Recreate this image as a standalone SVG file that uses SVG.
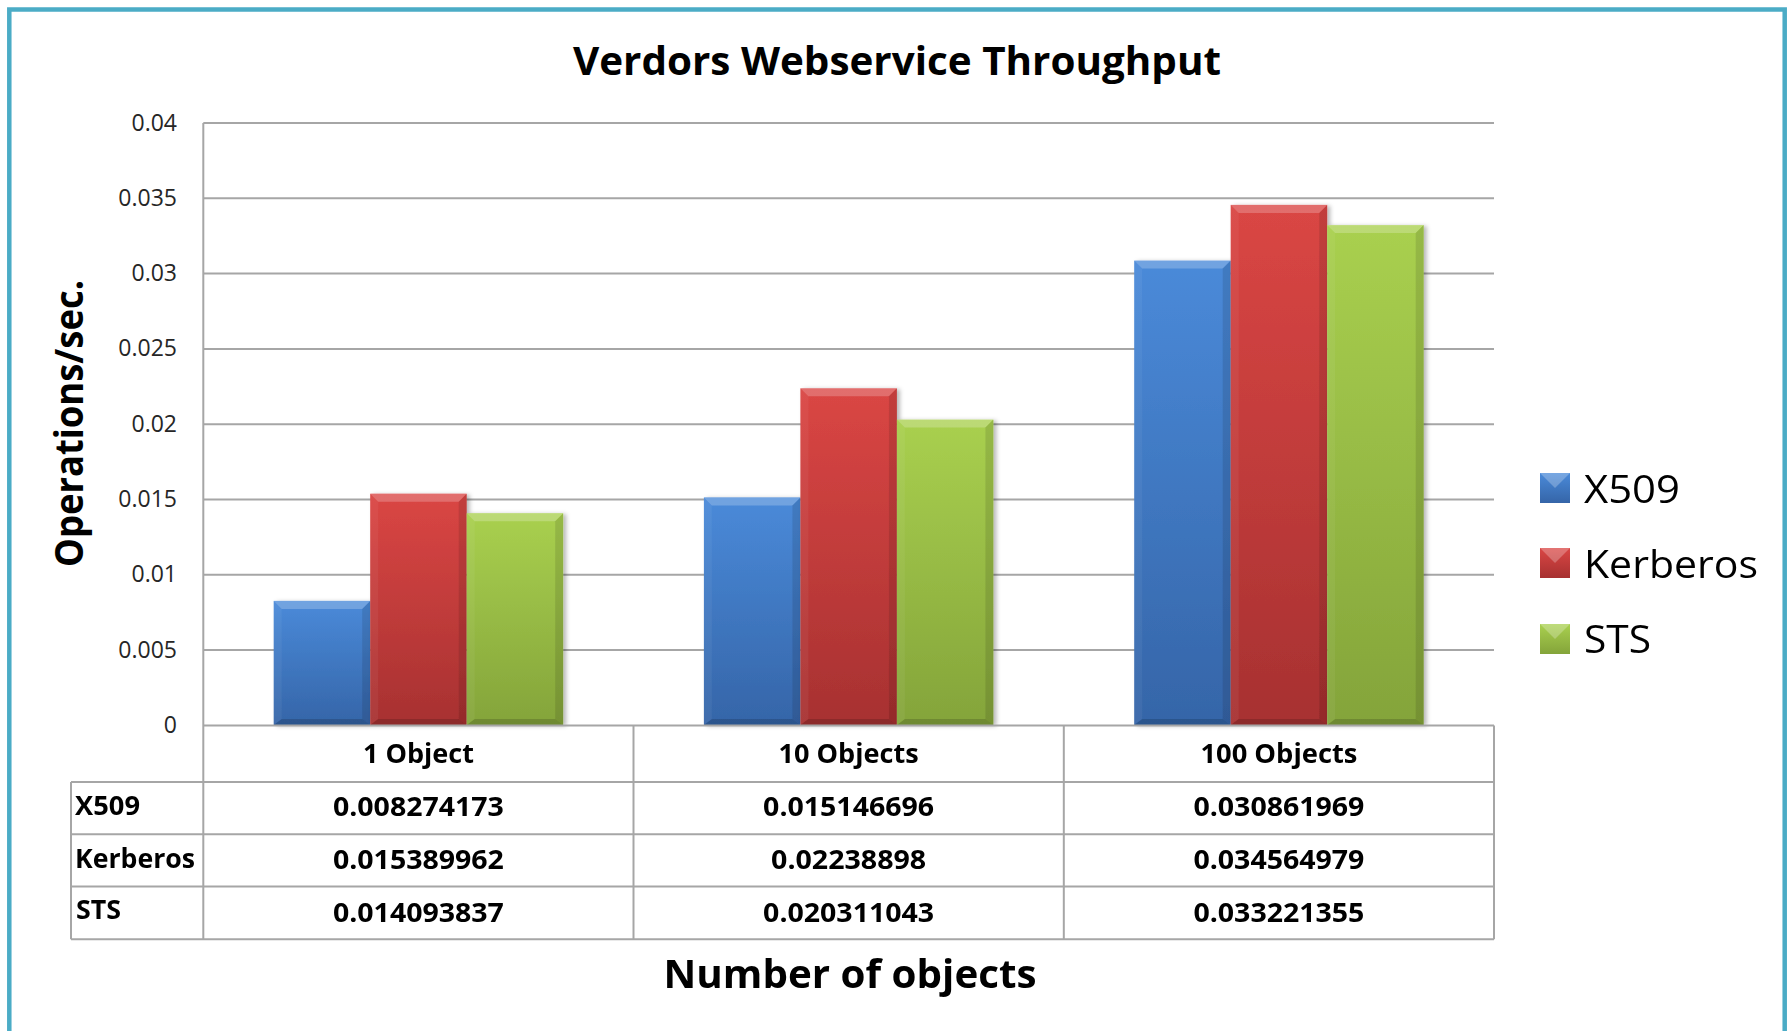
<svg xmlns="http://www.w3.org/2000/svg" width="1787" height="1031" viewBox="0 0 1787 1031">
  <style>
    .grid { stroke: #a6a6a6; stroke-width: 2; fill: none; }
    .tbl { stroke: #a6a6a6; stroke-width: 2; fill: none; }
    .ylab { font-family: "Open Sans", "Noto Sans", sans-serif; font-size: 23px; fill: #262626; text-anchor: end; }
    .hdr { font-family: "Open Sans", "Noto Sans", sans-serif; font-size: 26px; font-weight: bold; fill: #000; text-anchor: middle; }
    .val { font-family: "Open Sans", "Noto Sans", sans-serif; font-size: 26px; font-weight: bold; fill: #000; text-anchor: middle; }
    .row { font-family: "Open Sans", "Noto Sans", sans-serif; font-size: 26px; font-weight: bold; fill: #000; }
    .leg { font-family: "Open Sans", "Noto Sans", sans-serif; font-size: 39px; fill: #000; }
    .title { font-family: "Open Sans", "Noto Sans", sans-serif; font-size: 40px; font-weight: bold; fill: #000; }
    .bt { fill: #ffffff; fill-opacity: 0.22; }
    .bl { fill: #ffffff; fill-opacity: 0.05; }
    .br { fill: #000000; fill-opacity: 0.11; }
    .bb { fill: #000000; fill-opacity: 0.16; }
    .lt { fill: #ffffff; fill-opacity: 0.25; }
  </style>
  <defs>
    <linearGradient id="gBlue" x1="0" y1="0" x2="0" y2="1">
      <stop offset="0" stop-color="#4a8ad9"/>
      <stop offset="1" stop-color="#3565a8"/>
    </linearGradient>
    <linearGradient id="gRed" x1="0" y1="0" x2="0" y2="1">
      <stop offset="0" stop-color="#da4644"/>
      <stop offset="1" stop-color="#a73131"/>
    </linearGradient>
    <linearGradient id="gGreen" x1="0" y1="0" x2="0" y2="1">
      <stop offset="0" stop-color="#a9d04f"/>
      <stop offset="1" stop-color="#84a43a"/>
    </linearGradient>
    <filter id="shadow" x="-10%" y="-5%" width="125%" height="110%">
      <feDropShadow dx="3" dy="1" stdDeviation="2" flood-color="#000" flood-opacity="0.28"/>
    </filter>
  </defs>

  <rect width="1787" height="1031" fill="#ffffff"/>
  <!-- frame, open at the bottom edge -->
  <rect x="9.3" y="9.5" width="1775.4" height="1100" fill="none" stroke="#4bacc6" stroke-width="4.5"/>

  <g id="title">
    <text class="title" x="573" y="75" textLength="648" lengthAdjust="spacingAndGlyphs">Verdors Webservice Throughput</text>
  </g>

  <!-- horizontal gridlines, 0.005 apart -->
  <g id="gridlines">
    <line class="grid" x1="203.3" y1="123" x2="1494" y2="123"/>
    <line class="grid" x1="203.3" y1="198.3" x2="1494" y2="198.3"/>
    <line class="grid" x1="203.3" y1="273.6" x2="1494" y2="273.6"/>
    <line class="grid" x1="203.3" y1="348.9" x2="1494" y2="348.9"/>
    <line class="grid" x1="203.3" y1="424.2" x2="1494" y2="424.2"/>
    <line class="grid" x1="203.3" y1="499.5" x2="1494" y2="499.5"/>
    <line class="grid" x1="203.3" y1="574.8" x2="1494" y2="574.8"/>
    <line class="grid" x1="203.3" y1="650.1" x2="1494" y2="650.1"/>
  </g>

  <g id="y-axis">
    <text class="ylab" x="177" y="130.5">0.04</text>
    <text class="ylab" x="177" y="205.8">0.035</text>
    <text class="ylab" x="177" y="281.1">0.03</text>
    <text class="ylab" x="177" y="356.4">0.025</text>
    <text class="ylab" x="177" y="431.7">0.02</text>
    <text class="ylab" x="177" y="507">0.015</text>
    <text class="ylab" x="177" y="582.3">0.01</text>
    <text class="ylab" x="177" y="657.6">0.005</text>
    <text class="ylab" x="177" y="732.9">0</text>
    <text class="title" transform="translate(83,567) rotate(-90)" x="0" y="0" font-size="39" textLength="287" lengthAdjust="spacingAndGlyphs">Operations/sec.</text>
  </g>

  <!-- bars: main fill plus four bevel facets -->
  <g id="series-x509" filter="url(#shadow)">
    <g transform="translate(273.7,600.9)">
      <rect width="96.5" height="124.1" fill="url(#gBlue)"/>
      <path class="bt" d="M0,0H96.5L88.5,8H8Z"/><path class="bl" d="M0,0L8,8V118.1L0,124.1Z"/>
      <path class="br" d="M96.5,0V124.1L88.5,118.1V8Z"/><path class="bb" d="M0,124.1L8,118.1H88.5L96.5,124.1Z"/>
    </g>
    <g transform="translate(703.9,497.4)">
      <rect width="96.5" height="227.6" fill="url(#gBlue)"/>
      <path class="bt" d="M0,0H96.5L88.5,8H8Z"/><path class="bl" d="M0,0L8,8V221.6L0,227.6Z"/>
      <path class="br" d="M96.5,0V227.6L88.5,221.6V8Z"/><path class="bb" d="M0,227.6L8,221.6H88.5L96.5,227.6Z"/>
    </g>
    <g transform="translate(1134.2,260.6)">
      <rect width="96.5" height="464.4" fill="url(#gBlue)"/>
      <path class="bt" d="M0,0H96.5L88.5,8H8Z"/><path class="bl" d="M0,0L8,8V458.4L0,464.4Z"/>
      <path class="br" d="M96.5,0V464.4L88.5,458.4V8Z"/><path class="bb" d="M0,464.4L8,458.4H88.5L96.5,464.4Z"/>
    </g>
  </g>
  <g id="series-kerberos" filter="url(#shadow)">
    <g transform="translate(370.2,493.7)">
      <rect width="96.5" height="231.3" fill="url(#gRed)"/>
      <path class="bt" d="M0,0H96.5L88.5,8H8Z"/><path class="bl" d="M0,0L8,8V225.3L0,231.3Z"/>
      <path class="br" d="M96.5,0V231.3L88.5,225.3V8Z"/><path class="bb" d="M0,231.3L8,225.3H88.5L96.5,231.3Z"/>
    </g>
    <g transform="translate(800.4,388.3)">
      <rect width="96.5" height="336.7" fill="url(#gRed)"/>
      <path class="bt" d="M0,0H96.5L88.5,8H8Z"/><path class="bl" d="M0,0L8,8V330.7L0,336.7Z"/>
      <path class="br" d="M96.5,0V336.7L88.5,330.7V8Z"/><path class="bb" d="M0,336.7L8,330.7H88.5L96.5,336.7Z"/>
    </g>
    <g transform="translate(1230.7,204.9)">
      <rect width="96.5" height="520.1" fill="url(#gRed)"/>
      <path class="bt" d="M0,0H96.5L88.5,8H8Z"/><path class="bl" d="M0,0L8,8V514.1L0,520.1Z"/>
      <path class="br" d="M96.5,0V520.1L88.5,514.1V8Z"/><path class="bb" d="M0,520.1L8,514.1H88.5L96.5,520.1Z"/>
    </g>
  </g>
  <g id="series-sts" filter="url(#shadow)">
    <g transform="translate(466.7,513.2)">
      <rect width="96.5" height="211.8" fill="url(#gGreen)"/>
      <path class="bt" d="M0,0H96.5L88.5,8H8Z"/><path class="bl" d="M0,0L8,8V205.8L0,211.8Z"/>
      <path class="br" d="M96.5,0V211.8L88.5,205.8V8Z"/><path class="bb" d="M0,211.8L8,205.8H88.5L96.5,211.8Z"/>
    </g>
    <g transform="translate(896.9,419.6)">
      <rect width="96.5" height="305.4" fill="url(#gGreen)"/>
      <path class="bt" d="M0,0H96.5L88.5,8H8Z"/><path class="bl" d="M0,0L8,8V299.4L0,305.4Z"/>
      <path class="br" d="M96.5,0V305.4L88.5,299.4V8Z"/><path class="bb" d="M0,305.4L8,299.4H88.5L96.5,305.4Z"/>
    </g>
    <g transform="translate(1327.2,225.1)">
      <rect width="96.5" height="499.9" fill="url(#gGreen)"/>
      <path class="bt" d="M0,0H96.5L88.5,8H8Z"/><path class="bl" d="M0,0L8,8V493.9L0,499.9Z"/>
      <path class="br" d="M96.5,0V499.9L88.5,493.9V8Z"/><path class="bb" d="M0,499.9L8,493.9H88.5L96.5,499.9Z"/>
    </g>
  </g>

  <!-- data table under the plot -->
  <g id="data-table">
    <line class="tbl" x1="203.3" y1="123" x2="203.3" y2="939.3"/>
    <line class="tbl" x1="203.3" y1="725.5" x2="1494" y2="725.5"/>
    <line class="tbl" x1="71" y1="782" x2="1494" y2="782"/>
    <line class="tbl" x1="71" y1="834.3" x2="1494" y2="834.3"/>
    <line class="tbl" x1="71" y1="886.6" x2="1494" y2="886.6"/>
    <line class="tbl" x1="71" y1="939.3" x2="1494" y2="939.3"/>
    <line class="tbl" x1="71" y1="782" x2="71" y2="939.3"/>
    <line class="tbl" x1="633.5" y1="725.5" x2="633.5" y2="939.3"/>
    <line class="tbl" x1="1063.8" y1="725.5" x2="1063.8" y2="939.3"/>
    <line class="tbl" x1="1494" y1="725.5" x2="1494" y2="939.3"/>

    <text class="hdr" x="418.4" y="763" textLength="111" lengthAdjust="spacingAndGlyphs">1 Object</text>
    <text class="hdr" x="848.6" y="763" textLength="140" lengthAdjust="spacingAndGlyphs">10 Objects</text>
    <text class="hdr" x="1278.9" y="763" textLength="157" lengthAdjust="spacingAndGlyphs">100 Objects</text>

    <text class="row" x="75" y="815" textLength="65" lengthAdjust="spacingAndGlyphs">X509</text>
    <text class="row" x="75" y="868" textLength="120" lengthAdjust="spacingAndGlyphs">Kerberos</text>
    <text class="row" x="76" y="919" textLength="45" lengthAdjust="spacingAndGlyphs">STS</text>

    <text class="val" x="418.4" y="816" textLength="171" lengthAdjust="spacingAndGlyphs">0.008274173</text>
    <text class="val" x="848.6" y="816" textLength="171" lengthAdjust="spacingAndGlyphs">0.015146696</text>
    <text class="val" x="1278.9" y="816" textLength="171" lengthAdjust="spacingAndGlyphs">0.030861969</text>
    <text class="val" x="418.4" y="869" textLength="171" lengthAdjust="spacingAndGlyphs">0.015389962</text>
    <text class="val" x="848.6" y="869" textLength="155" lengthAdjust="spacingAndGlyphs">0.02238898</text>
    <text class="val" x="1278.9" y="869" textLength="171" lengthAdjust="spacingAndGlyphs">0.034564979</text>
    <text class="val" x="418.4" y="921.5" textLength="171" lengthAdjust="spacingAndGlyphs">0.014093837</text>
    <text class="val" x="848.6" y="921.5" textLength="171" lengthAdjust="spacingAndGlyphs">0.020311043</text>
    <text class="val" x="1278.9" y="921.5" textLength="171" lengthAdjust="spacingAndGlyphs">0.033221355</text>
  </g>

  <g id="x-axis-title">
    <text class="title" x="663.5" y="988" font-size="42" textLength="373" lengthAdjust="spacingAndGlyphs">Number of objects</text>
  </g>

  <g id="legend">
    <g id="legend-x509">
      <rect x="1540" y="473" width="30" height="30" fill="url(#gBlue)"/>
      <path class="lt" d="M1540,473H1570L1555,488Z"/>
      <text class="leg" x="1584" y="503" textLength="96" lengthAdjust="spacingAndGlyphs">X509</text>
    </g>
    <g id="legend-kerberos">
      <rect x="1540" y="548" width="30" height="30" fill="url(#gRed)"/>
      <path class="lt" d="M1540,548H1570L1555,563Z"/>
      <text class="leg" x="1584" y="578" textLength="174" lengthAdjust="spacingAndGlyphs">Kerberos</text>
    </g>
    <g id="legend-sts">
      <rect x="1540" y="624" width="30" height="30" fill="url(#gGreen)"/>
      <path class="lt" d="M1540,624H1570L1555,639Z"/>
      <text class="leg" x="1584" y="653" textLength="67" lengthAdjust="spacingAndGlyphs">STS</text>
    </g>
  </g>
</svg>
